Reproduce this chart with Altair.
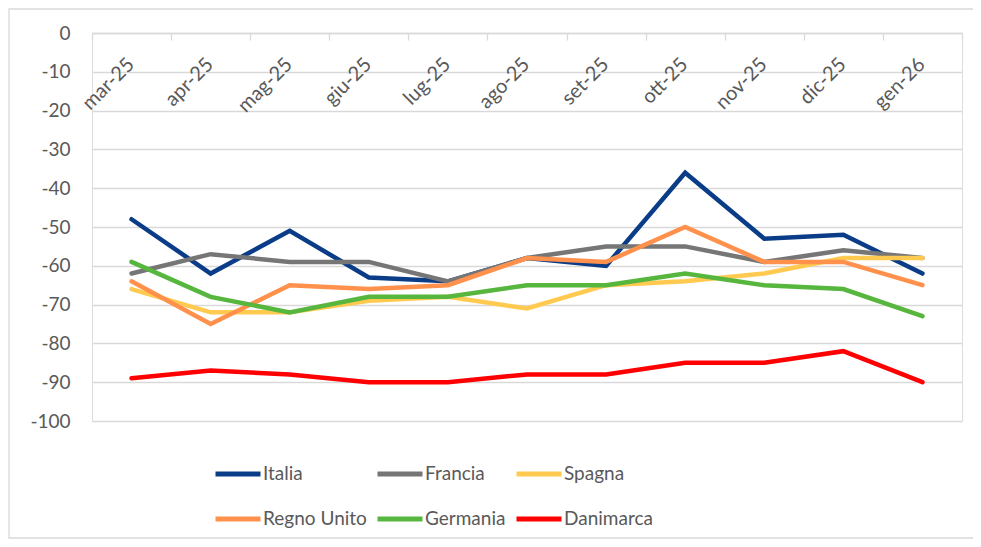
import altair as alt
import pandas as pd

months = ["mar-25", "apr-25", "mag-25", "giu-25", "lug-25", "ago-25",
          "set-25", "ott-25", "nov-25", "dic-25", "gen-26"]
series_names = ["Italia", "Francia", "Spagna", "Regno Unito", "Germania", "Danimarca"]
colors = ["#0A3C87", "#767676", "#FFCA4F", "#FF914D", "#56B63D", "#FF0000"]

italia = [-48, -62, -51, -63, -64, -58, -60, -36, -53, -52, -62]
francia = [-62, -57, -59, -59, -64, -58, -55, -55, -59, -56, -58]
spagna = [-66, -72, -72, -69, -68, -71, -65, -64, -62, -58, -58]
regno_unito = [-64, -75, -65, -66, -65, -58, -59, -50, -59, -59, -65]
germania = [-59, -68, -72, -68, -68, -65, -65, -62, -65, -66, -73]
danimarca = [-89, -87, -88, -90, -90, -88, -88, -85, -85, -82, -90]

values = [italia, francia, spagna, regno_unito, germania, danimarca]
rows = []
for si, (name, vals) in enumerate(zip(series_names, values)):
    for mi, (m, v) in enumerate(zip(months, vals)):
        rows.append({"mese": m, "serie": name, "valore": v, "si": si, "mi": mi})
df = pd.DataFrame(rows)

W, H = 870, 388
FONT = "Lato"
GREY_TXT = "#595959"
GRID = "#D9D9D9"

lines = alt.Chart(df).mark_line(strokeWidth=4.5, strokeCap="round", strokeJoin="miter").encode(
    x=alt.X("mese:N", sort=months, title=None, bandPosition=0.5,
            scale=alt.Scale(type="band", paddingInner=0, paddingOuter=0),
            axis=alt.Axis(orient="bottom", offset=-H, labelAngle=-45, labelAlign="right",
                          labelBaseline="top", labelPadding=14, labelOffset=-8,
                          tickBand="extent", tickSize=7, tickColor=GRID, domainColor=GRID,
                          domainWidth=1.3, tickWidth=1.3, grid=False,
                          labelFont=FONT, labelFontSize=20, labelColor=GREY_TXT)),
    y=alt.Y("valore:Q", title=None,
            scale=alt.Scale(domain=[-100, 0], nice=False),
            axis=alt.Axis(values=list(range(-100, 1, 10)), ticks=False, domain=False,
                          labelPadding=22, gridColor=GRID, gridWidth=1.3,
                          labelExpr="'' + datum.value",
                          labelFont=FONT, labelFontSize=19, labelColor=GREY_TXT)),
    color=alt.Color("serie:N", sort=series_names,
                    scale=alt.Scale(domain=series_names, range=colors),
                    legend=alt.Legend(title=None, orient="none", legendX=121, legendY=416,
                                      direction="horizontal",
                                      columns=3, gridAlign="each", columnPadding=0,
                                      rowPadding=10, symbolType="stroke", symbolSize=2025,
                                      symbolStrokeWidth=5, labelOffset=0,
                                      labelFont=FONT, labelFontSize=19, labelColor=GREY_TXT)),
    order=alt.Order("mi:Q"),
    detail="si:N",
)

frame = alt.Chart(pd.DataFrame({"a": [0]})).mark_rect(
    filled=False, stroke="#D9D9D9", strokeWidth=1.3
).encode(
    x=alt.value(-83), x2=alt.value(W + 88),
    y=alt.value(-24), y2=alt.value(H + 117),
)

chart = alt.layer(frame, lines).properties(
    width=W, height=H,
    autosize=alt.AutoSizeParams(type="none"),
    padding={"left": 84, "top": 25, "right": 11, "bottom": 118},
).configure_view(stroke=None).configure(background="white")

chart.save("out.html", embed_options={"renderer": "svg", "actions": False})
